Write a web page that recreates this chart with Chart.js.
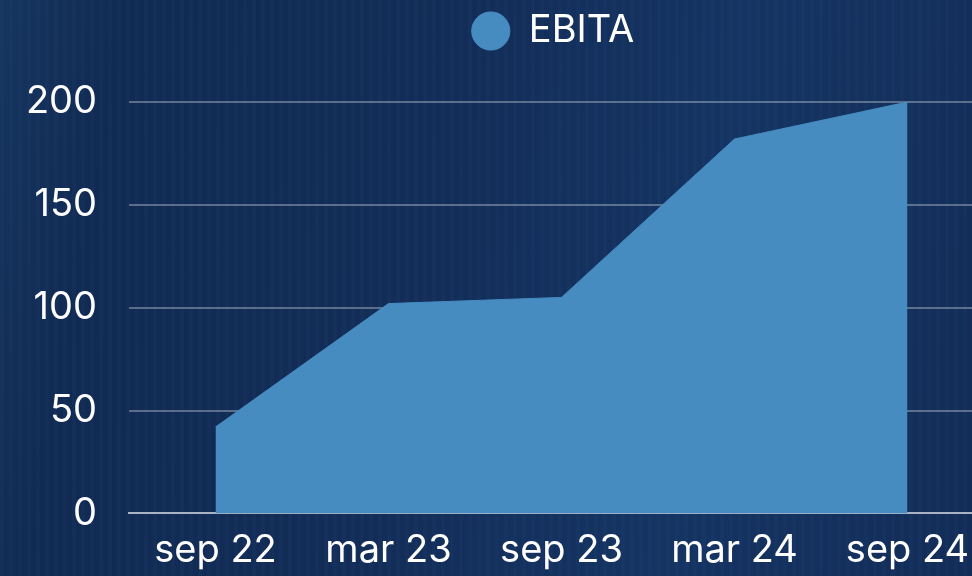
<!DOCTYPE html>
<html>
<head>
<meta charset="utf-8">
<script src="https://cdn.jsdelivr.net/npm/chart.js@4.4.1/dist/chart.umd.min.js"></script>
<style>
  html, body {
    margin: 0;
    padding: 0;
    width: 972px;
    height: 576px;
    overflow: hidden;
    background: #132c57;
  }
  .bg {
    position: absolute;
    left: 0; top: 0;
    width: 972px; height: 576px;
    background:
      repeating-linear-gradient(90deg, rgba(40,90,150,0.08) 0 4px, rgba(0,0,0,0) 4px 9px),
      linear-gradient(100deg, #15355f 0%, #112a52 12%, #132d58 45%, #153462 70%, #132c57 100%);
  }
  .wrap {
    position: absolute;
    left: 0; top: 0;
    width: 1104px;
    height: 576px;
  }
</style>
</head>
<body>
<div class="bg"></div>
<div class="wrap"><canvas id="ebitaChart"></canvas></div>
<script>
// Data
const periods = ["sep 22", "mar 23", "sep 23", "mar 24", "sep 24"];
const ebitaValues = [42, 102, 105, 182, 200];
const yTicks = [0, 50, 100, 150, 200];

const FONT = "Inter, 'Open Sans', sans-serif";

// more room below the legend, and nudge it to the right
const legendTweak = {
  id: "legendTweak",
  beforeInit(chart) {
    const legend = chart.legend;
    const origFit = legend.fit;
    legend.fit = function () {
      origFit.bind(legend)();
      this.height += 42;
    };
    const origDraw = legend.draw;
    legend.draw = function () {
      const c = chart.ctx;
      c.save();
      c.translate(56, 0);
      origDraw.apply(legend, arguments);
      c.restore();
    };
  },
};

const ctx = document.getElementById("ebitaChart").getContext("2d");
const ebitaChart = new Chart(ctx, {
  type: "line",
  data: {
    labels: periods,
    datasets: [
      {
        label: "EBITA",
        data: ebitaValues,
        backgroundColor: "#478cc0",
        borderColor: "#478cc0",
        borderWidth: 1,
        fill: "origin",
        tension: 0,
        pointRadius: 0,
        pointStyle: "circle",
      },
    ],
  },
  options: {
    responsive: true,
    maintainAspectRatio: false,
    animation: false,
    layout: { padding: { top: 2, left: 0, right: 110, bottom: -11 } },
    plugins: {
      legend: {
        position: "top",
        labels: {
          usePointStyle: true,
          boxHeight: 27,
          color: "#ffffff",
          font: { family: FONT, size: 38 },
        },
      },
      tooltip: { enabled: false },
    },
    scales: {
      x: {
        offset: true,
        grid: { display: false, drawTicks: false },
        border: { display: true, color: "#a9b3c4", width: 2 },
        ticks: {
          color: "#ffffff",
          padding: 14,
          maxRotation: 0,
          font: { family: FONT, size: 38 },
        },
      },
      y: {
        min: 0,
        max: 200,
        afterFit(scale) { scale.width = 129; },
        afterBuildTicks(scale) { scale.ticks = yTicks.map(v => ({ value: v })); },
        grid: { color: "rgba(180,190,205,0.45)", lineWidth: 2, drawTicks: false },
        border: { display: false },
        ticks: {
          color: "#ffffff",
          padding: 32,
          font: { family: FONT, size: 38 },
        },
      },
    },
  },
  plugins: [legendTweak],
});
</script>
</body>
</html>
